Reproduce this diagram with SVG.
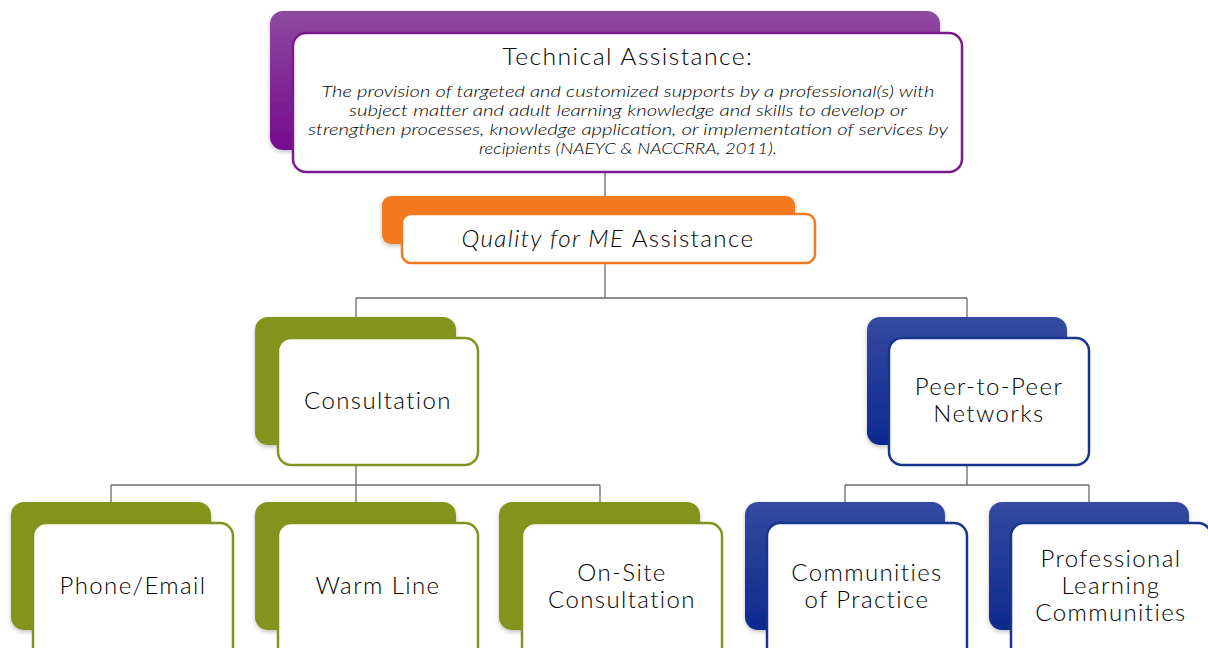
<svg xmlns="http://www.w3.org/2000/svg" width="1208" height="648" viewBox="0 0 1208 648">
<defs>
<linearGradient id="gPurple" x1="0" y1="0" x2="0" y2="1"><stop offset="0" stop-color="#8d4aa0"/><stop offset="1" stop-color="#76098e"/></linearGradient>
<linearGradient id="gBlue" x1="0" y1="0" x2="0" y2="1"><stop offset="0" stop-color="#3549a0"/><stop offset="1" stop-color="#0c2a8e"/></linearGradient>
<filter id="sh" x="-10%" y="-10%" width="120%" height="130%"><feDropShadow dx="0" dy="2" stdDeviation="2" flood-color="#000" flood-opacity="0.25"/></filter>
<style>
.conn{stroke:#6b6b6b;stroke-width:1.3;fill:none}
.front{fill:#fff;stroke-width:2.5}
.lbl{font-family:Lato,"Liberation Sans",sans-serif;font-weight:300;font-size:24px;letter-spacing:1.4px;fill:#000;text-anchor:middle}
.desc{font-family:Lato,"Liberation Sans",sans-serif;font-weight:300;font-size:16px;font-style:italic;fill:#000;text-anchor:middle}
.green .back{fill:#84931f}
.green .front{stroke:#84931f}
.blue .back{fill:url(#gBlue)}
.blue .front{stroke:#18358c}
</style>
</defs>
<rect width="1208" height="648" fill="#fff"/>
<g id="connectors">
<path class="conn" d="M605 172 V298 M356 298 H967 M356 298 V320 M967 298 V320"/>
<path class="conn" d="M356 465 V485 M111 485 H600 M111 485 V505 M356 485 V505 M600 485 V505"/>
<path class="conn" d="M967 465 V485 M845 485 H1089 M845 485 V505 M1089 485 V505"/>
</g>
<g id="technical-assistance">
<rect x="270" y="11" width="670" height="139" rx="13" fill="url(#gPurple)" filter="url(#sh)"/>
<rect class="front" x="293" y="33" width="669" height="139" rx="13" stroke="#7b1a8d"/>
<text class="lbl" x="628" y="65" textLength="251" lengthAdjust="spacingAndGlyphs">Technical Assistance:</text>
<text class="desc" x="628" y="97" textLength="613" lengthAdjust="spacingAndGlyphs">The provision of targeted and customized supports by a professional(s) with</text>
<text class="desc" x="628" y="116" textLength="558" lengthAdjust="spacingAndGlyphs">subject matter and adult learning knowledge and skills to develop or</text>
<text class="desc" x="628" y="135" textLength="640" lengthAdjust="spacingAndGlyphs">strengthen processes, knowledge application, or implementation of services by</text>
<text class="desc" x="628" y="154" textLength="298" lengthAdjust="spacingAndGlyphs">recipients (NAEYC &amp; NACCRRA, 2011).</text>
</g>
<g id="quality-for-me">
<rect x="382" y="196" width="413" height="48" rx="9" fill="#f47a20" filter="url(#sh)"/>
<rect class="front" x="402" y="214" width="413" height="49" rx="9" stroke="#f47a20"/>
<text class="lbl" x="608" y="247" textLength="293" lengthAdjust="spacingAndGlyphs"><tspan font-style="italic">Quality for ME</tspan> Assistance</text>
</g>
<g id="consultation" class="green">
<rect class="back" x="255" y="317" width="201" height="128" rx="13" filter="url(#sh)"/>
<rect class="front" x="278" y="338" width="200" height="127" rx="13"/>
<text class="lbl" x="378" y="409">Consultation</text>
</g>
<g id="peer-to-peer" class="blue">
<rect class="back" x="867" y="317" width="200" height="128" rx="13" filter="url(#sh)"/>
<rect class="front" x="889" y="338" width="200" height="127" rx="13"/>
<text class="lbl" x="989" y="395">Peer-to-Peer</text>
<text class="lbl" x="989" y="422">Networks</text>
</g>
<g id="phone-email" class="green">
<rect class="back" x="11" y="502" width="200" height="128" rx="13" filter="url(#sh)"/>
<rect class="front" x="33" y="523" width="200" height="140" rx="13"/>
<text class="lbl" x="133" y="594">Phone/Email</text>
</g>
<g id="warm-line" class="green">
<rect class="back" x="255" y="502" width="201" height="128" rx="13" filter="url(#sh)"/>
<rect class="front" x="278" y="523" width="200" height="140" rx="13"/>
<text class="lbl" x="378" y="594">Warm Line</text>
</g>
<g id="on-site" class="green">
<rect class="back" x="499" y="502" width="201" height="128" rx="13" filter="url(#sh)"/>
<rect class="front" x="522" y="523" width="200" height="140" rx="13"/>
<text class="lbl" x="622" y="581">On-Site</text>
<text class="lbl" x="622" y="608">Consultation</text>
</g>
<g id="communities-of-practice" class="blue">
<rect class="back" x="745" y="502" width="200" height="128" rx="13" filter="url(#sh)"/>
<rect class="front" x="767" y="523" width="200" height="140" rx="13"/>
<text class="lbl" x="867" y="581">Communities</text>
<text class="lbl" x="867" y="608">of Practice</text>
</g>
<g id="professional-learning-communities" class="blue">
<rect class="back" x="989" y="502" width="200" height="128" rx="13" filter="url(#sh)"/>
<rect class="front" x="1011" y="523" width="200" height="140" rx="13"/>
<text class="lbl" x="1111" y="567">Professional</text>
<text class="lbl" x="1111" y="594">Learning</text>
<text class="lbl" x="1111" y="621">Communities</text>
</g>
</svg>
